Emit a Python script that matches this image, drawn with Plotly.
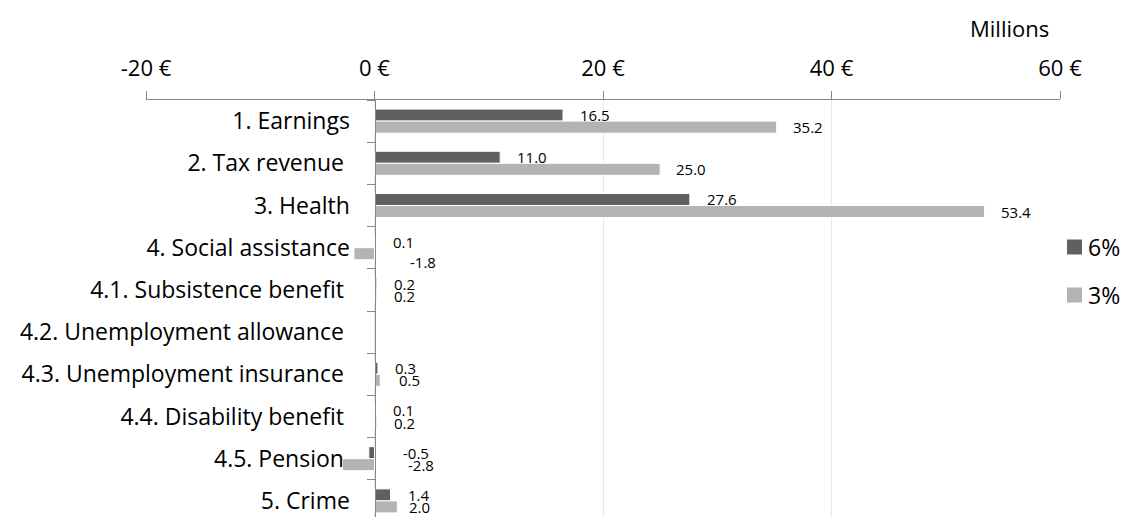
import plotly.graph_objects as go

categories = [
    "1. Earnings",
    "2. Tax revenue\u00a0",
    "3. Health",
    "4. Social assistance",
    "4.1. Subsistence benefit\u00a0",
    "4.2. Unemployment allowance\u00a0",
    "4.3. Unemployment insurance\u00a0",
    "4.4. Disability benefit\u00a0",
    "4.5. Pension\u00a0",
    "5. Crime",
]
values_6 = [16.5, 11.0, 27.6, 0.1, 0.2, None, 0.3, 0.1, -0.5, 1.4]
values_3 = [35.2, 25.0, 53.4, -1.8, 0.2, None, 0.5, 0.2, -2.8, 2.0]
series_names = ["6%", "3%"]
x_tickvals = [-20, 0, 20, 40, 60]
x_ticktext = ["-20 €", "0 €", "20 €", "40 €", "60 €"]

# styling (pixel offsets of data labels, as placed in the original)
label_dx_6 = [15, 15, 15, 15, 15, 0, 15, 15, 26, 15]
label_dx_3 = [14, 14, 14, 33, 15, 0, 17, 15, 31, 10]
label_dy_6 = [0, 0, 0, 0, 0, 0, 0, 0, 0, 0]
label_dy_3 = [0, 0, 0, -8, 0, 0, 0, 0, 0, 0]

W, H = 1121, 517
ML, MR, MT, MB = 146, 61, 100, 0
FONT = "Open Sans"
DARK = "#606060"
LIGHT = "#b3b3b3"
BARGAP = 0.43
BAND = 42.2


def px_x(p):
    return (p - ML) / (W - ML - MR)


def px_y(p):
    return (H - MB - p) / (H - MT - MB)


fig = go.Figure()
for name, vals, col in [(series_names[0], values_6, DARK), (series_names[1], values_3, LIGHT)]:
    fig.add_trace(go.Bar(
        y=categories, x=vals, orientation="h", name=name,
        marker=dict(color=col, line=dict(color="white", width=1)),
        showlegend=False, hoverinfo="x+y",
    ))

bar_off = (1 - BARGAP) / 4 * BAND
annos = []
for vals, dxs, dys, sgn in [(values_6, label_dx_6, label_dy_6, 1), (values_3, label_dx_3, label_dy_3, -1)]:
    for cat, v, dx, dy in zip(categories, vals, dxs, dys):
        if v is None:
            continue
        annos.append(dict(
            x=max(v, 0), y=cat, xref="x", yref="y", text=f"{v:.1f}",
            showarrow=False, xanchor="left", yanchor="middle",
            xshift=dx, yshift=sgn * bar_off + dy,
            font=dict(family=FONT, size=15, color="#000000"),
        ))

annos.append(dict(
    x=px_x(1009), y=px_y(28), xref="paper", yref="paper", text="Millions",
    showarrow=False, xanchor="center", yanchor="middle",
    font=dict(family=FONT, size=22, color="#000000"),
))

shapes = []
for name, col, yc in [(series_names[0], DARK, 247), (series_names[1], LIGHT, 295)]:
    shapes.append(dict(
        type="rect", xref="paper", yref="paper",
        x0=px_x(1067), x1=px_x(1082), y0=px_y(yc + 7.5), y1=px_y(yc - 7.5),
        fillcolor=col, line=dict(width=0),
    ))
    annos.append(dict(
        x=px_x(1086), y=px_y(yc), xref="paper", yref="paper", text=name,
        showarrow=False, xanchor="left", yanchor="middle",
        font=dict(family=FONT, size=23, color="#000000"),
    ))

fig.update_layout(
    width=W, height=H,
    margin=dict(l=ML, r=MR, t=MT, b=MB, pad=0),
    paper_bgcolor="white", plot_bgcolor="white",
    barmode="group", bargap=BARGAP, bargroupgap=0,
    font=dict(family=FONT, size=22, color="#000000"),
    annotations=annos, shapes=shapes,
    showlegend=False,
    xaxis=dict(
        side="top", range=[-20, 60], tickvals=x_tickvals, ticktext=x_ticktext,
        showline=True, linecolor="#878787", linewidth=1,
        ticks="outside", ticklen=8, tickcolor="#878787", tickwidth=1,
        showgrid=True, gridcolor="#e8e8e8", gridwidth=1,
        zeroline=False, ticklabelstandoff=6,
        tickfont=dict(family=FONT, size=22, color="#000000"),
    ),
    yaxis=dict(
        type="category", categoryorder="array", categoryarray=categories,
        range=[9.5 - (1 - (H - MT - MB) / (10 * BAND)) * 10, -0.5], autorange=False,
        anchor="free", position=0.25, side="left",
        showline=True, linecolor="#878787", linewidth=1,
        ticks="outside", ticklen=8, tickcolor="#878787", tickwidth=1,
        tickson="boundaries", showgrid=False, zeroline=False,
        ticklabelstandoff=20,
        tickfont=dict(family=FONT, size=23, color="#000000"),
    ),
)

fig.write_html("out.html")
